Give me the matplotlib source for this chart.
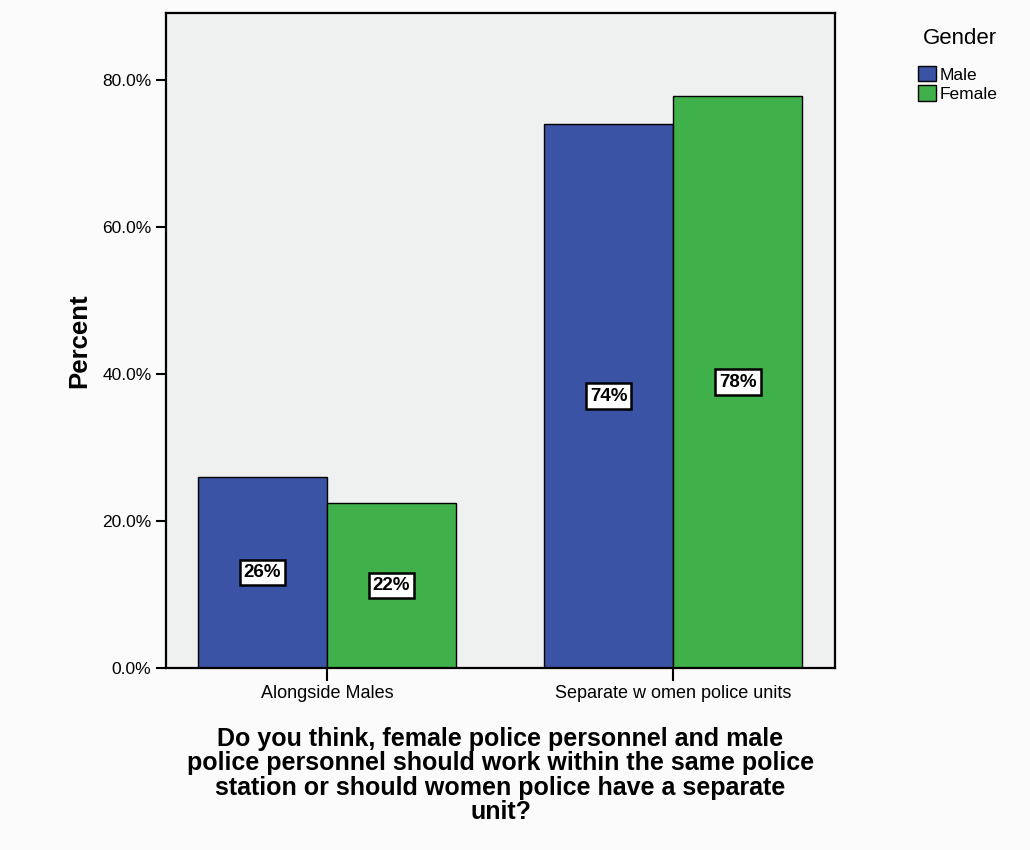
import matplotlib
matplotlib.use("Agg")
import matplotlib.pyplot as plt
import numpy as np

plt.rcParams['font.family'] = ['Liberation Sans', 'DejaVu Sans']

categories = ["Alongside Males", "Separate w omen police units"]
genders = ["Male", "Female"]
male_pct = [26.0, 74.0]
female_pct = [22.4, 77.8]
male_lbl = ["26%", "74%"]
female_lbl = ["22%", "78%"]
yticks = [0, 20, 40, 60, 80]

colors = {"Male": "#3a53a4", "Female": "#40b04a"}

fig = plt.figure(figsize=(10.3, 8.5), dpi=100, facecolor="#fbfbfb")
ax = fig.add_axes([0.1612, 0.2141, 0.6495, 0.7706])
ax.set_facecolor("#eff0f0")

x = np.arange(len(categories))
w = 0.373
series = [(male_pct, male_lbl, "Male", -w / 2), (female_pct, female_lbl, "Female", w / 2)]
for vals, lbls, name, off in series:
    bars = ax.bar(x + off, vals, width=w, color=colors[name], edgecolor="black",
                  linewidth=1.0, label=name, zorder=2)
    for b, lab in zip(bars, lbls):
        ax.text(b.get_x() + b.get_width() / 2, b.get_height() / 2, lab,
                ha="center", va="center", fontsize=13.5, fontweight="bold", zorder=3,
                bbox=dict(boxstyle="square,pad=0.22", facecolor="white",
                          edgecolor="black", linewidth=1.8))

ax.set_xlim(-0.465, 1.468)
ax.set_ylim(0, 89.1)
ax.set_xticks(x)
ax.set_xticklabels(categories, fontsize=13)
ax.set_yticks(yticks)
ax.set_yticklabels([f"{t:.1f}%" for t in yticks], fontsize=12.5)
ax.tick_params(axis="y", length=7, width=1.5)
ax.tick_params(axis="x", length=9, width=1.5, pad=3)
for s in ax.spines.values():
    s.set_linewidth(1.6)

ax.set_ylabel("Percent", fontsize=18.5, fontweight="bold", labelpad=8)
ax.set_xlabel("Do you think, female police personnel and male\n"
              "police personnel should work within the same police\n"
              "station or should women police have a separate\n"
              "unit?", fontsize=18, fontweight="bold", linespacing=1.03, labelpad=18)

# legend title drawn separately to get the wider gap above the entries
fig.text(0.9315, 0.955, "Gender", fontsize=16, ha="center", va="center")
leg = ax.legend(loc="upper left", bbox_to_anchor=(1.113, 0.93), frameon=False,
                fontsize=12.5, handlelength=1.05, handleheight=1.0, handletextpad=0.2,
                labelspacing=0.15, borderaxespad=0)
for h in leg.legend_handles:
    h.set_edgecolor("black")

fig.savefig("out.png", dpi=100, facecolor=fig.get_facecolor())
